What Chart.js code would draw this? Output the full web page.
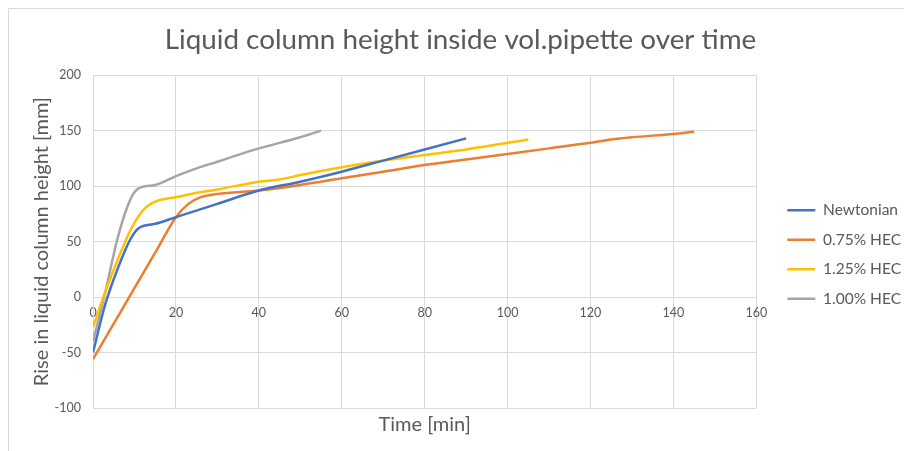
<!DOCTYPE html>
<html>
<head>
<meta charset="utf-8">
<script src="https://cdn.jsdelivr.net/npm/chart.js@4/dist/chart.umd.min.js"></script>
<style>
  html, body { margin: 0; padding: 0; background: #ffffff; }
  #wrap { width: 904px; height: 451px; position: relative; }
</style>
</head>
<body>
<div id="wrap"><canvas id="chart" width="904" height="451"></canvas></div>
<script>
// Elapsed time [min] and rise of the liquid column [mm] for each fluid
const timeNewtonian = [0, 3, 6, 9, 11, 15, 20, 30, 40, 50, 60, 70, 80, 90];
const riseNewtonian = [-50, -6, 26, 52, 62, 66, 72, 84, 96, 104, 113, 123, 133, 143];

const timeHec075 = [0, 5, 10, 15, 20, 23, 26, 30, 40, 50, 60, 70, 80, 90, 100, 110, 120, 125, 130, 140, 145];
const riseHec075 = [-56, -24, 8, 40, 72, 84, 90, 93, 96, 101, 107, 113, 119, 124, 129, 134, 139, 142, 144, 147, 149];

const timeHec125 = [0, 3, 6, 9, 12, 15, 20, 25, 30, 40, 45, 50, 60, 70, 80, 90, 100, 105];
const riseHec125 = [-27, 5, 34, 60, 78, 86, 90, 94, 97, 104, 106, 110, 117, 123, 128, 133, 139, 142];

const timeHec100 = [0, 3, 6, 9, 11, 15, 20, 25, 30, 40, 50, 55];
const riseHec100 = [-40, 5, 54, 88, 98, 101, 109, 116, 122, 134, 144, 150];

const seriesNames = ['Newtonian', '0.75% HEC', '1.25% HEC', '1.00% HEC'];
const seriesColors = ['#4472C4', '#ED7D31', '#FFC000', '#A5A5A5'];

const xTicks = [0, 20, 40, 60, 80, 100, 120, 140, 160];
const yTicks = [-100, -50, 0, 50, 100, 150, 200];

const FONT = 'Lato, "Liberation Sans", sans-serif';
const TEXT = '#595959';
const GRID = '#d9d9d9';

function pairs(xs, ys) {
  return xs.map((x, i) => ({ x: x, y: ys[i] }));
}

const seriesData = [
  pairs(timeNewtonian, riseNewtonian),
  pairs(timeHec075, riseHec075),
  pairs(timeHec125, riseHec125),
  pairs(timeHec100, riseHec100)
];

// Thin frame along the top and left edges of the figure
const framePlugin = {
  id: 'frame',
  beforeDraw(chart) {
    const ctx = chart.ctx;
    ctx.save();
    ctx.fillStyle = '#ffffff';
    ctx.fillRect(0, 0, chart.width, chart.height);
    ctx.strokeStyle = GRID;
    ctx.lineWidth = 1;
    ctx.beginPath();
    ctx.moveTo(8.5, chart.height);
    ctx.lineTo(8.5, 8.5);
    ctx.lineTo(chart.width, 8.5);
    ctx.stroke();
    ctx.restore();
  }
};

new Chart(document.getElementById('chart'), {
  type: 'scatter',
  data: {
    datasets: seriesData.map((d, i) => ({
      label: seriesNames[i],
      data: d,
      showLine: true,
      borderColor: seriesColors[i],
      backgroundColor: seriesColors[i],
      borderWidth: 2.5,
      pointRadius: 0,
      pointHoverRadius: 0,
      cubicInterpolationMode: 'monotone',
      pointStyle: 'line'
    }))
  },
  options: {
    responsive: false,
    animation: false,
    events: [],
    layout: { padding: { left: 10, right: -7, top: 0, bottom: 0 } },
    plugins: {
      title: {
        display: true,
        text: 'Liquid column height inside vol.pipette over time',
        color: TEXT,
        font: { family: FONT, size: 27.8, weight: 'normal', lineHeight: 1.2 },
        padding: { top: 23.5, bottom: 18.3 }
      },
      legend: {
        display: true,
        position: 'right',
        align: 'center',
        fullSize: false,
        title: { display: true, text: ' ', font: { size: 10, lineHeight: 1.2 }, padding: 7 },
        labels: {
          usePointStyle: true,
          pointStyleWidth: 28,
          color: TEXT,
          padding: 14,
          font: { family: FONT, size: 15.5 }
        }
      },
      tooltip: { enabled: false }
    },
    scales: {
      x: {
        type: 'linear',
        min: 0,
        max: 160,
        position: { y: 0 },
        afterFit(s) { s.height = 0; },
        afterBuildTicks(s) { s.ticks = xTicks.map(v => ({ value: v })); },
        grid: { color: GRID, lineWidth: 1, drawTicks: false },
        border: { color: GRID, width: 1 },
        ticks: { color: TEXT, padding: 8, font: { family: FONT, size: 12.5 }, maxRotation: 0 }
      },
      xTitle: {
        type: 'linear',
        axis: 'x',
        position: 'bottom',
        min: 0,
        max: 160,
        afterFit(s) { s.height = 43; },
        grid: { display: false, drawTicks: false },
        border: { display: false },
        ticks: { display: false },
        title: {
          display: true,
          text: 'Time [min]',
          color: TEXT,
          font: { family: FONT, size: 20 },
          padding: { top: 14, bottom: 14 }
        }
      },
      y: {
        type: 'linear',
        min: -100,
        max: 200,
        position: 'left',
        afterFit(s) { s.width = 83; },
        afterBuildTicks(s) { s.ticks = yTicks.map(v => ({ value: v })); },
        grid: { color: GRID, lineWidth: 1, drawTicks: false },
        border: { color: GRID, width: 1 },
        ticks: { color: TEXT, padding: 12, font: { family: FONT, size: 12.5 } },
        title: {
          display: true,
          text: 'Rise in liquid column height [mm]',
          color: TEXT,
          font: { family: FONT, size: 20 },
          padding: { top: 20, bottom: 20 }
        }
      },
      // empty gap between the plot and the legend
      yGap: {
        type: 'linear',
        axis: 'y',
        position: 'right',
        weight: 0,
        min: 0,
        max: 1,
        afterFit(s) { s.width = 17; },
        grid: { display: false, drawTicks: false },
        border: { display: false },
        ticks: { display: false }
      }
    }
  },
  plugins: [framePlugin]
});
</script>
</body>
</html>
